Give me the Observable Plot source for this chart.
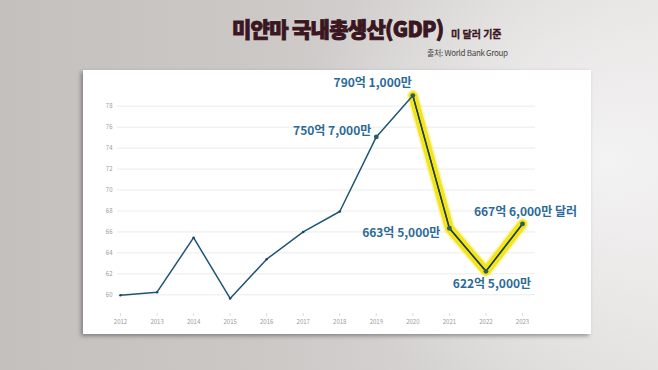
<!DOCTYPE html>
<html><head><meta charset="utf-8">
<script src="https://cdn.jsdelivr.net/npm/d3@7"></script>
<script src="https://cdn.jsdelivr.net/npm/@observablehq/plot@0.6"></script>
<style>
body{margin:0;background:#d0cdcb;}
#stage{position:relative;width:658px;height:370px;overflow:hidden;
  background:
    radial-gradient(ellipse 320px 260px at 610px 160px, rgba(245,244,244,0.95), rgba(245,244,244,0) 100%),
    linear-gradient(90deg,#c4c0be 0%,#cbc8c6 40%,#d9d7d6 75%,#e2e0df 100%);
  font-family:"Noto Sans CJK KR","Noto Sans",sans-serif;}
#title{position:absolute;left:232px;top:13px;font-size:21px;font-weight:900;color:#3a1620;letter-spacing:-0.7px;white-space:nowrap;
  -webkit-text-stroke:0.9px #3a1620;text-shadow:0 0 2px rgba(255,255,255,0.7);}
#unit{position:absolute;left:451px;top:26px;font-size:10px;font-weight:700;color:#3a1620;white-space:nowrap;-webkit-text-stroke:0.3px #3a1620;}
#source{position:absolute;left:427px;top:47px;font-size:8px;color:#444;letter-spacing:-0.3px;white-space:nowrap;}
#panel{position:absolute;left:83px;top:70px;width:508px;height:264px;background:#fff;
  box-shadow:-2px 2px 4px rgba(0,0,0,0.35);}
#panel svg{display:block;}
</style>
</head><body>
<div id="stage">
  <div id="title">미얀마 국내총생산(GDP)</div>
  <div id="unit">미 달러 기준</div>
  <div id="source">출처: World Bank Group</div>
  <div id="panel"></div>
</div>
<script>
const years = [2012, 2013, 2014, 2015, 2016, 2017, 2018, 2019, 2020, 2021, 2022, 2023];
const gdp = [59.95, 60.25, 65.45, 59.65, 63.4, 66.0, 67.95, 75.07, 79.01, 66.35, 62.25, 66.76];
const yTicks = [60, 62, 64, 66, 68, 70, 72, 74, 76, 78];
const highlightFrom = 2020;
const labels = {
  2019: "750억 7,000만",
  2020: "790억 1,000만",
  2021: "663억 5,000만",
  2022: "622억 5,000만",
  2023: "667억 6,000만 달러"
};

const data = years.map((y, i) => ({year: y, gdp: gdp[i]}));
const hi = data.filter(d => d.year >= highlightFrom);
const labeled = data.filter(d => labels[d.year]);
const pick = y => data.filter(d => d.year === y);
const labelColor = "#2b6a98";
const fontFam = "Noto Sans CJK KR, Noto Sans, sans-serif";

const chart = Plot.plot({
  width: 508,
  height: 264,
  marginLeft: 34,
  marginRight: 56,
  marginTop: 20,
  marginBottom: 21,
  style: {background: "transparent", fontFamily: fontFam},
  x: {domain: [2011.918, 2023.356]},
  y: {domain: [60, 78], range: [224.3, 35.7]},
  marks: [
    Plot.gridY(yTicks, {stroke: "#e6e6e6", strokeOpacity: 1, strokeWidth: 0.8}),
    Plot.axisY({ticks: yTicks, tickSize: 0, tickPadding: 5, fontSize: 6, fill: "#9a9a9a", label: null}),
    Plot.axisX({ticks: years, tickFormat: d => String(d), tickSize: 3, tickPadding: 3, fontSize: 6, fill: "#9a9a9a", stroke: "#dddddd", label: null}),
    Plot.line(hi, {x: "year", y: "gdp", stroke: "#f4e84a", strokeWidth: 12, strokeOpacity: 0.4, strokeLinejoin: "round", strokeLinecap: "round"}),
    Plot.line(hi, {x: "year", y: "gdp", stroke: "#f3e51c", strokeWidth: 9, strokeLinejoin: "round", strokeLinecap: "round"}),
    Plot.line(data, {x: "year", y: "gdp", stroke: "#1e5575", strokeWidth: 1.5}),
    Plot.line(hi, {x: "year", y: "gdp", stroke: "#243a2e", strokeWidth: 1.3}),
    Plot.dot(data.filter(d => !labels[d.year]), {x: "year", y: "gdp", r: 1.3, fill: "#1e4a5e"}),
    Plot.dot(labeled, {x: "year", y: "gdp", r: 2.4, fill: "#2a5e5a", stroke: "none"}),
    Plot.text(pick(2019), {x: "year", y: "gdp", text: d => labels[d.year], textAnchor: "end", dx: -5, dy: -6, fontSize: 12, fontWeight: 700, fill: labelColor}),
    Plot.text(pick(2020), {x: "year", y: "gdp", text: d => labels[d.year], textAnchor: "end", dx: -1, dy: -12, fontSize: 12, fontWeight: 700, fill: labelColor}),
    Plot.text(pick(2021), {x: "year", y: "gdp", text: d => labels[d.year], textAnchor: "end", dx: -9, dy: 5, fontSize: 12, fontWeight: 700, fill: labelColor}),
    Plot.text(pick(2022), {x: "year", y: "gdp", text: d => labels[d.year], textAnchor: "middle", dx: 6, dy: 13, fontSize: 12, fontWeight: 700, fill: labelColor}),
    Plot.text(pick(2023), {x: "year", y: "gdp", text: d => labels[d.year], textAnchor: "middle", dx: 3, dy: -12, fontSize: 12, fontWeight: 700, fill: labelColor})
  ]
});
document.getElementById("panel").appendChild(chart);
</script>
</body></html>
